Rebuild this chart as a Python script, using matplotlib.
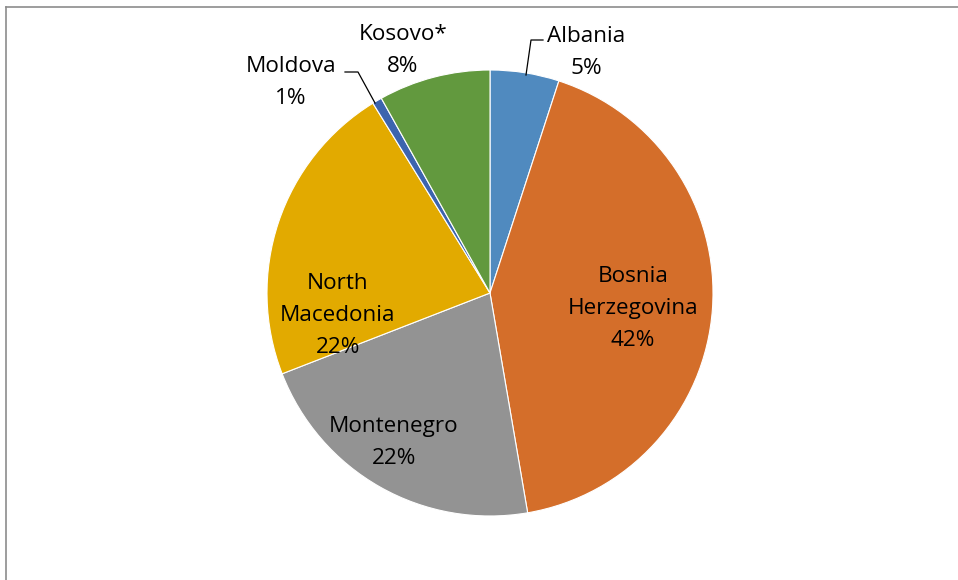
import matplotlib
matplotlib.use("Agg")
import matplotlib.pyplot as plt
from matplotlib.lines import Line2D

countries = ["Albania", "Bosnia\nHerzegovina", "Montenegro", "North\nMacedonia", "Moldova", "Kosovo*"]
shares = [5.0, 42.3, 21.8, 22.1, 0.7, 8.1]
colors = ["#508ABF", "#D46E2A", "#939393", "#E2AA00", "#3C64AE", "#62993E"]

# label anchor: x centre and first-line baseline, in pixels from top-left
label_pos = [(586, 42), (633, 282), (394, 432), (338, 289), (291, 72), (403, 40)]
line_step = 32
# leader lines for the small outside labels
leaders = {
    0: [(526, 75), (531, 40), (543, 40)],
    4: [(375, 103), (358, 72), (345, 72)],
}

plt.rcParams['font.family'] = ['Open Sans', 'DejaVu Sans']

W, H = 958, 580
fig = plt.figure(figsize=(W / 100, H / 100), dpi=100)
ax = fig.add_axes([0, 0, 1, 1])

ax.pie(shares, colors=colors, startangle=90, counterclock=False,
       center=(490, H - 293), radius=223, frame=True,
       wedgeprops=dict(edgecolor='white', linewidth=0.8))
ax.set_xlim(0, W)
ax.set_ylim(0, H)
ax.set_aspect('equal')
ax.axis('off')

total = sum(shares)
for i, (name, val) in enumerate(zip(countries, shares)):
    x, y = label_pos[i]
    lines = name.split("\n") + [f"{round(val / total * 100):.0f}%"]
    for k, line in enumerate(lines):
        ax.text(x, H - (y + k * line_step), line, ha='center', va='baseline',
                fontsize=16.2, color='black')

for pts in leaders.values():
    ax.plot([p[0] for p in pts], [H - p[1] for p in pts], color='black', linewidth=0.9)

# chart frame (top and left edges visible)
fig.add_artist(Line2D([6 / W, 1], [1 - 7 / H, 1 - 7 / H], transform=fig.transFigure,
                      color='#8c8c8c', linewidth=1.2))
fig.add_artist(Line2D([6 / W, 6 / W], [0, 1 - 7 / H], transform=fig.transFigure,
                      color='#8c8c8c', linewidth=1.2))

fig.savefig("out.png", dpi=100, facecolor='white')
